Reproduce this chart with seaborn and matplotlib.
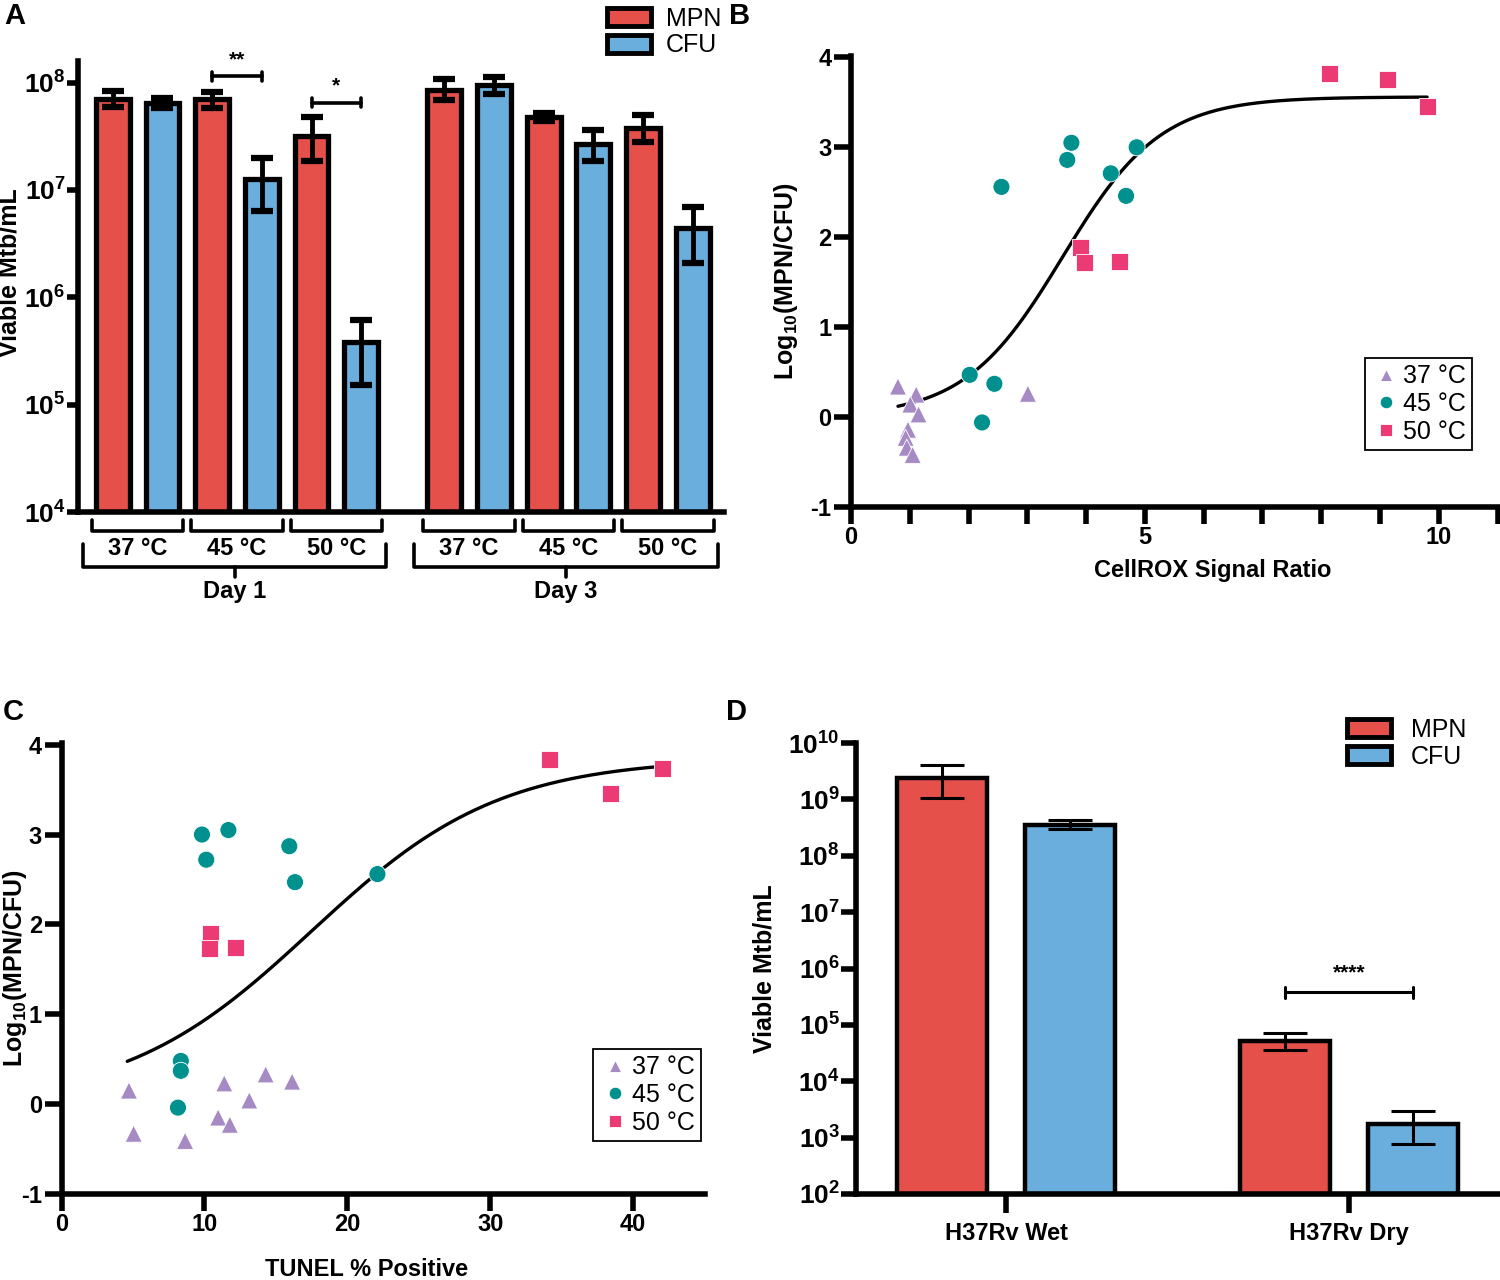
import numpy as np
import pandas as pd
import seaborn as sns
import matplotlib.pyplot as plt
from matplotlib.patches import Patch
from matplotlib.ticker import FixedLocator, MultipleLocator, LogLocator, NullLocator, FuncFormatter

# ---- data ----
# panel A: viable Mtb/mL (mean, upper and lower end of error bar)
a_day = ['Day 1'] * 6 + ['Day 3'] * 6
a_temp = ['37 °C', '37 °C', '45 °C', '45 °C', '50 °C', '50 °C'] * 2
a_assay = ['MPN', 'CFU'] * 6
a_mean = [7.0e7, 6.5e7, 7.0e7, 1.27e7, 3.2e7, 3.8e5, 8.6e7, 9.4e7, 4.8e7, 2.7e7, 3.8e7, 4.4e6]
a_upper = [8.4e7, 7.2e7, 8.1e7, 2.0e7, 4.8e7, 6.2e5, 1.07e8, 1.12e8, 5.2e7, 3.6e7, 5.0e7, 6.9e6]
a_lower = [5.9e7, 5.8e7, 5.8e7, 6.4e6, 1.86e7, 1.53e5, 6.9e7, 7.8e7, 4.4e7, 1.86e7, 2.8e7, 2.1e6]
a_sig = [('Day 1', '45 °C', '**', 1.14e8), ('Day 1', '50 °C', '*', 6.5e7)]

# panel B: log10(MPN/CFU) vs CellROX signal ratio
b_x_37 = [0.80, 1.11, 1.01, 1.15, 0.97, 0.93, 0.95, 1.05, 3.01]
b_y_37 = [0.34, 0.25, 0.14, 0.03, -0.14, -0.23, -0.34, -0.42, 0.26]
b_x_45 = [2.02, 2.44, 2.23, 2.56, 3.68, 3.75, 4.42, 4.68, 4.86]
b_y_45 = [0.47, 0.37, -0.06, 2.56, 2.86, 3.05, 2.71, 2.46, 3.00]
b_x_50 = [3.91, 3.98, 4.57, 8.14, 9.13, 9.80]
b_y_50 = [1.89, 1.72, 1.73, 3.82, 3.75, 3.45]
# sigmoid fit: bottom, top, ec50, hill, x range
b_fit = (0.0, 3.56, 3.6, 0.52, 0.8, 9.8)

# panel C: log10(MPN/CFU) vs TUNEL % positive
c_x_37 = [4.72, 5.05, 8.65, 11.39, 10.96, 11.78, 13.14, 14.29, 16.14]
c_y_37 = [0.15, -0.33, -0.41, 0.23, -0.15, -0.23, 0.04, 0.33, 0.25]
c_x_45 = [9.83, 11.68, 10.13, 15.94, 16.34, 22.11, 8.35, 8.35, 8.15]
c_y_45 = [3.00, 3.05, 2.72, 2.87, 2.47, 2.56, 0.48, 0.37, -0.04]
c_x_50 = [10.43, 10.33, 12.21, 34.16, 38.45, 42.05]
c_y_50 = [1.90, 1.73, 1.74, 3.83, 3.46, 3.74]
c_fit = (0.0, 3.85, 17.5, 0.066, 4.6, 42.0)

# panel D: wet vs dry H37Rv
d_strain = ['H37Rv Wet', 'H37Rv Wet', 'H37Rv Dry', 'H37Rv Dry']
d_assay = ['MPN', 'CFU', 'MPN', 'CFU']
d_mean = [2.42e9, 3.5e8, 5.15e4, 1.74e3]
d_upper = [4.1e9, 4.4e8, 7.2e4, 2.98e3]
d_lower = [1.04e9, 2.97e8, 3.6e4, 7.7e2]

temps = ['37 °C', '45 °C', '50 °C']
bar_pal = {'MPN': '#E5514A', 'CFU': '#6AAEDE'}
pt_pal = {'37 °C': '#A58AC4', '45 °C': '#00918F', '50 °C': '#EC3A74'}
pt_markers = {'37 °C': '^', '45 °C': 'o', '50 °C': 's'}

sns.set_theme(style='ticks', rc={'axes.edgecolor': 'black', 'xtick.color': 'black',
                                 'ytick.color': 'black', 'text.color': 'black',
                                 'axes.labelcolor': 'black'})
plt.rcParams['font.family'] = ['Liberation Sans', 'DejaVu Sans']
plt.rcParams.update({'mathtext.fontset': 'custom', 'mathtext.rm': 'Liberation Sans',
                     'mathtext.bf': 'Liberation Sans:bold', 'mathtext.it': 'Liberation Sans:italic',
                     'axes.unicode_minus': False})

TICK = 17
fig = plt.figure(figsize=(15, 12.8), dpi=100)


def sigmoid(x, bottom, top, ec50, hill):
    return bottom + (top - bottom) / (1 + 10 ** ((ec50 - x) * hill))


def style_axes(ax, lw=4):
    sns.despine(ax=ax)
    for s in ['left', 'bottom']:
        ax.spines[s].set_linewidth(lw)
    ax.tick_params(which='both', width=lw, length=10, labelsize=TICK, pad=2)
    for lab in ax.get_xticklabels() + ax.get_yticklabels():
        lab.set_fontweight('bold')


log_fmt = FuncFormatter(lambda v, p: r'$\mathbf{10^{%d}}$' % round(np.log10(v)))


def sig_bracket(ax, x0, x1, y, text, lw, tick, dy_text, fs):
    ax.plot([x0, x1], [y, y], color='black', lw=lw, clip_on=False)
    for x in (x0, x1):
        ax.plot([x, x], [y / tick, y * tick], color='black', lw=lw, clip_on=False)
    ax.text((x0 + x1) / 2, y * dy_text, text, ha='center', va='center',
            fontsize=fs, fontweight='bold', clip_on=False)


# ---- panel A ----
dfA = pd.DataFrame({'day': a_day, 'temp': a_temp, 'assay': a_assay,
                    'mean': a_mean, 'hi': a_upper, 'lo': a_lower})
dfA['pos'] = np.arange(len(dfA)) + np.where(dfA['day'] == 'Day 3', 0.67, 0.0)

axA = fig.add_axes([0.052, 0.6, 0.4307, 0.3523])
axA.set_yscale('log')
sns.barplot(data=dfA, x='pos', y='mean', hue='assay', palette=bar_pal, native_scale=True,
            dodge=False, width=0.68, errorbar=None, saturation=1, edgecolor='black',
            linewidth=3.8, legend=False, orient='x', ax=axA)
centers = sorted(p.get_x() + p.get_width() / 2 for p in axA.patches)
axA.errorbar(centers, dfA['mean'].to_numpy(),
             yerr=[(dfA['mean'] - dfA['lo']).to_numpy(), (dfA['hi'] - dfA['mean']).to_numpy()],
             fmt='none', ecolor='black', elinewidth=3.5, capsize=8, capthick=4.5, zorder=5)
axA.set_xlim(-0.7, 12.3)
axA.set_ylim(1e4, 10 ** 8.2)
axA.set_xticks([])
axA.set_xlabel('')
axA.yaxis.set_major_locator(LogLocator(base=10, numticks=20))
axA.yaxis.set_minor_locator(NullLocator())
axA.yaxis.set_major_formatter(log_fmt)
axA.set_ylabel('Viable Mtb/mL', fontsize=18, fontweight='bold')
axA.yaxis.set_label_coords(-0.087, 0.53)
style_axes(axA)
axA.tick_params(axis='y', length=8, pad=1, labelsize=19)

trans = axA.get_xaxis_transform()
for day, gd in dfA.groupby('day', sort=False):
    for temp, gt in gd.groupby('temp', sort=False):
        x0, x1 = gt['pos'].min() - 0.42, gt['pos'].max() + 0.42
        axA.plot([x0, x0, x1, x1], [-0.018, -0.042, -0.042, -0.018], color='black',
                 lw=2.6, transform=trans, clip_on=False)
        axA.text((x0 + x1) / 2, -0.08, temp, transform=trans, ha='center', va='center',
                 fontsize=TICK, fontweight='bold')
    x0, x1 = gd['pos'].min() - 0.6, gd['pos'].max() + 0.5
    xm = (x0 + x1) / 2
    axA.plot([x0, x0, x1, x1], [-0.072, -0.122, -0.122, -0.072], color='black',
             lw=2.6, transform=trans, clip_on=False)
    axA.plot([xm, xm], [-0.122, -0.145], color='black', lw=2.6, transform=trans, clip_on=False)
    axA.text(xm, -0.177, day, transform=trans, ha='center', va='center',
             fontsize=TICK, fontweight='bold')

for day, temp, text, y in a_sig:
    g = dfA[(dfA['day'] == day) & (dfA['temp'] == temp)]
    sig_bracket(axA, g['pos'].min(), g['pos'].max(), y, text, 2.6, 1.1, 1.42, 15)

fig.legend(handles=[Patch(facecolor=bar_pal[k], edgecolor='black', linewidth=3.5, label=k)
                    for k in ['MPN', 'CFU']],
           loc='upper left', bbox_to_anchor=(607 / 1500, 1 - 7 / 1280), frameon=False,
           fontsize=18, handlelength=1.75, handleheight=0.72, handletextpad=0.6,
           labelspacing=0.1, borderpad=0, borderaxespad=0)


# ---- panels B and C ----
def scatter_panel(rect, xs, ys, fit, xlim, major, minor, xlabel, xlab_xy, ylab_x, leg_anchor):
    df = pd.DataFrame({'x': sum(xs, []), 'y': sum(ys, []),
                       'temp': sum([[t] * len(v) for t, v in zip(temps, xs)], [])})
    ax = fig.add_axes(rect)
    grid = np.linspace(fit[4], fit[5], 300)
    sns.lineplot(x=grid, y=sigmoid(grid, *fit[:4]), color='black', lw=2.4, ax=ax)
    sns.scatterplot(data=df, x='x', y='y', hue='temp', style='temp', palette=pt_pal,
                    markers=pt_markers, hue_order=temps, s=150, edgecolor='white',
                    linewidth=0.6, zorder=3, ax=ax)
    ax.set_xlim(*xlim)
    ax.set_ylim(-1, 4.02)
    ax.xaxis.set_major_locator(FixedLocator(major))
    if minor:
        ax.xaxis.set_minor_locator(MultipleLocator(minor))
    ax.yaxis.set_major_locator(MultipleLocator(1))
    ax.set_xlabel(xlabel, fontsize=17, fontweight='bold')
    ax.xaxis.set_label_coords(*xlab_xy)
    ax.set_ylabel(r'$\mathbf{Log_{10}(MPN/CFU)}$', fontsize=18)
    ax.yaxis.set_label_coords(ylab_x, 0.5)
    style_axes(ax)
    ax.tick_params(which='both', length=12)
    old = ax.get_legend()
    handles = old.legend_handles
    labels = [t.get_text() for t in old.get_texts()]
    for h in handles:
        h.set_markersize(9)
    ax.legend(handles, labels, loc='lower right', bbox_to_anchor=leg_anchor, frameon=True,
              fancybox=False, edgecolor='black', fontsize=18, handletextpad=0.1,
              borderpad=0.25, labelspacing=0.15, handlelength=1.2, framealpha=1,
              borderaxespad=0)
    ax.get_legend().get_frame().set_linewidth(1.3)
    return ax


axB = scatter_panel([0.5673, 0.6039, 0.4311, 0.3527], [b_x_37, b_x_45, b_x_50],
                    [b_y_37, b_y_45, b_y_50], b_fit, (0, 11), [0, 5, 10], 1,
                    'CellROX Signal Ratio', (0.56, -0.115), -0.079, (0.961, 0.126))
axC = scatter_panel([0.041, 0.0673, 0.4287, 0.3523], [c_x_37, c_x_45, c_x_50],
                    [c_y_37, c_y_45, c_y_50], c_fit, (0, 45), [0, 10, 20, 30, 40], None,
                    'TUNEL % Positive', (0.474, -0.142), -0.05, (0.995, 0.117))

# ---- panel D ----
dfD = pd.DataFrame({'strain': d_strain, 'assay': d_assay, 'mean': d_mean,
                    'hi': d_upper, 'lo': d_lower})
axD = fig.add_axes([0.571, 0.0672, 0.429, 0.3523])
axD.set_yscale('log')
sns.barplot(data=dfD, x='strain', y='mean', hue='assay', palette=bar_pal, width=0.75,
            gap=0.3, errorbar=None, saturation=1, edgecolor='black', linewidth=3.2,
            legend=False, ax=axD)
centers = sorted(p.get_x() + p.get_width() / 2 for p in axD.patches)
axD.errorbar(centers, dfD['mean'].to_numpy(),
             yerr=[(dfD['mean'] - dfD['lo']).to_numpy(), (dfD['hi'] - dfD['mean']).to_numpy()],
             fmt='none', ecolor='black', elinewidth=2.2, capsize=16, capthick=2.2, zorder=5)
axD.set_xlim(-0.436, 1.44)
axD.set_ylim(1e2, 1e10)
axD.yaxis.set_major_locator(LogLocator(base=10, numticks=20))
axD.yaxis.set_minor_locator(NullLocator())
axD.yaxis.set_major_formatter(log_fmt)
axD.set_xlabel('')
axD.set_ylabel('Viable Mtb/mL', fontsize=18, fontweight='bold')
axD.yaxis.set_label_coords(-0.124, 0.5)
style_axes(axD)
axD.tick_params(axis='x', length=14, pad=6)
axD.tick_params(axis='y', length=11, pad=1, labelsize=19)
sig_bracket(axD, centers[2], centers[3], 3.8e5, '****', 2.2, 1.25, 2.2, 15)

fig.legend(handles=[Patch(facecolor=bar_pal[k], edgecolor='black', linewidth=3.5, label=k)
                    for k in ['MPN', 'CFU']],
           loc='upper left', bbox_to_anchor=(1347 / 1500, 1 - 718 / 1280), frameon=False,
           fontsize=18, handlelength=1.75, handleheight=0.72, handletextpad=0.8,
           labelspacing=0.1, borderpad=0, borderaxespad=0)

# panel letters
for letter, x, y in [('A', 4, 2), ('B', 729, 2), ('C', 3, 698), ('D', 726, 698)]:
    fig.text(x / 1500, 1 - y / 1280, letter, fontsize=21, fontweight='bold', ha='left', va='top')

fig.savefig('out.png', dpi=100)
